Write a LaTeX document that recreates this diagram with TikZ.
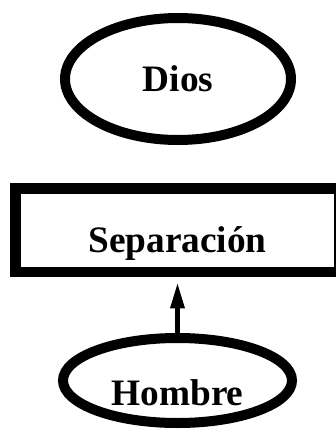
\documentclass[tikz,border=0pt]{standalone}
\usepackage{fontspec}
\setmainfont{Liberation Serif}
\usetikzlibrary{arrows.meta,shapes.geometric,positioning}
\tikzstyle{elipse} = [ellipse, draw=black, line width=7.5pt, align=center, inner sep=0pt, font=\bfseries\fontsize{28pt}{30pt}\selectfont]
\tikzstyle{caja}   = [rectangle, draw=black, line width=8pt, align=center, inner sep=0pt, font=\bfseries\fontsize{28pt}{30pt}\selectfont]
\tikzstyle{flecha} = [black, line width=3.75pt, -{Triangle[length=19.5pt, width=10pt]}, shorten >=3.75pt]

\begin{document}
\begin{tikzpicture}
		[
			x=0.75pt, y=-0.75pt
		]
		\useasboundingbox (0,0) rectangle (336,433);
		\node[elipse, minimum width=169.5pt, minimum height=91.5pt] (dios) at (178,79) {Dios};
		\node[caja, minimum width=243pt, minimum height=62.6pt, text height=40pt, text depth=6pt] (separacion) at (177.5,230.25) {Separación};
		\node[elipse, minimum width=171.75pt, minimum height=63.75pt, text height=37pt, text depth=0pt] (hombre) at (177.5,380.5) {Hombre};
		\draw[flecha] (hombre.north) -- (separacion.south);
	\end{tikzpicture}
\end{document}
